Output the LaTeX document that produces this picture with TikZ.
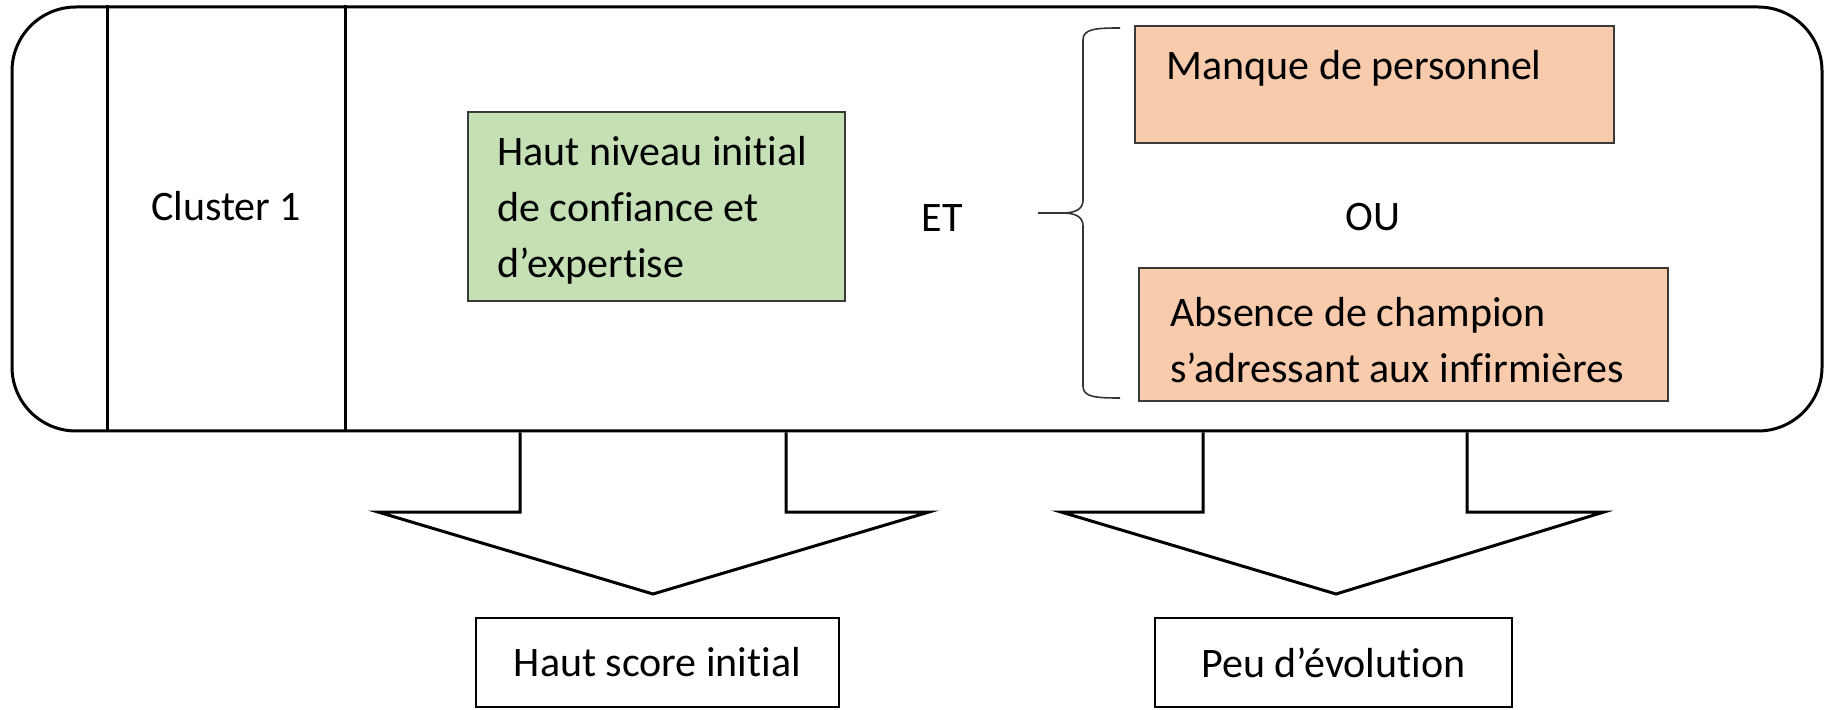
\documentclass[tikz,border=0pt]{standalone}
\usepackage{fontspec}
\setmainfont{Carlito}[Ligatures=NoCommon]
\definecolor{gfill}{HTML}{C5E0B4}
\definecolor{ofill}{HTML}{F8CBAD}
\definecolor{edge}{HTML}{3A3A3A}
\begin{document}
\begin{tikzpicture}[x=0.5pt,y=-0.5pt,
  font=\fontsize{21}{28}\selectfont,
  txt/.style={inner sep=0pt, text=black},
  heavy/.style={line width=1.5pt, black},
  gbox/.style={draw=edge, line width=0.9pt, fill=gfill, inner sep=0pt},
  obox/.style={draw=edge, line width=1pt, fill=ofill, inner sep=0pt},
  resbox/.style={draw=black, line width=1.1pt, fill=white, inner sep=0pt, text=black},
  blockarrow/.style={line width=1.5pt, black, line join=miter},
  bracestyle/.style={line width=0.8pt, black!80}]
\useasboundingbox (0,0) rectangle (1829,710);
% outer container
\node[heavy, draw, rounded corners=32pt, minimum width=905pt, minimum height=212pt, inner sep=0pt] (outer) at (917,219) {};
\coordinate (v1) at (107,0);
\coordinate (v2) at (345,0);
\draw[heavy] (outer.north -| v1) -- (outer.south -| v1);
\draw[heavy] (outer.north -| v2) -- (outer.south -| v2);
\node[txt] (cluster) at (226,206) {Cluster 1};
% green box
\node[gbox, minimum width=188.5pt, minimum height=94.5pt] (green) at (656.5,206.5) {};
\node[txt, anchor=west, align=left] (greentxt) at (497,210) {Haut niveau initial\\de confiance et\\d’expertise};
\node[txt] (et) at (942,218) {ET};
% brace
\draw[bracestyle] (1120,28) .. controls (1095,28) and (1083,29) .. (1083,40) -- (1083,200)
  .. controls (1083,209) and (1076,213) .. (1062,213) -- (1038,213);
\draw[bracestyle] (1062,213) .. controls (1076,213) and (1083,217) .. (1083,226) -- (1083,386)
  .. controls (1083,397) and (1095,398) .. (1120,398);
% orange boxes
\node[obox, minimum width=239.5pt, minimum height=58.5pt] (manque) at (1374.5,84.5) {};
\node[txt, anchor=west] (manquetxt) at (1166,68) {Manque de personnel};
\node[txt] (ou) at (1373,217) {OU};
\node[obox, minimum width=264.5pt, minimum height=66.5pt] (absence) at (1403.5,335) {};
\node[txt, anchor=west, align=left] (absencetxt) at (1170,340) {Absence de champion\\s’adressant aux infirmières};
% block arrows
\draw[blockarrow] (outer.south -| 520,0) -- (520,512) -- (378,512) -- (653,594) -- (929,512) -- (786,512) -- (outer.south -| 786,0);
\draw[blockarrow] (outer.south -| 1203,0) -- (1203,512) -- (1061,512) -- (1336,594) -- (1604,512) -- (1467,512) -- (outer.south -| 1467,0);
% result boxes
\node[resbox, minimum width=181.5pt, minimum height=44.5pt] (r1) at (657.5,662.5) {Haut score initial};
\node[resbox, minimum width=178.5pt, minimum height=44.5pt] (r2) at (1333.5,662.5) {Peu d’évolution};
\end{tikzpicture}
\end{document}
